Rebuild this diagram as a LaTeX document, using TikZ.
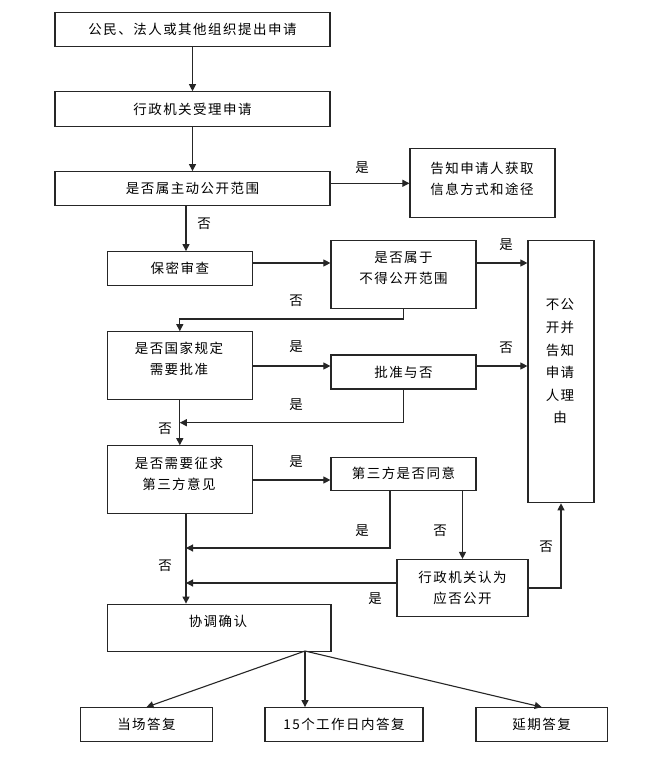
\documentclass[tikz,border=0pt]{standalone}
\usepackage{fontspec}
\newfontfamily\zh[LetterSpace=11]{Noto Sans CJK SC}
\usetikzlibrary{arrows.meta}
\begin{document}
\begin{tikzpicture}[x=1pt,y=-1pt,
 line/.style={draw=black!85,line width=1.1pt},
 arr/.style={line,-{Triangle[length=7pt,width=7pt]}},
 box/.style={draw=black!85,line width=1.2pt,inner sep=0pt,align=center,font=\zh\fontsize{13.5}{21}\selectfont},
 txt/.style={inner sep=0pt,align=center,font=\zh\fontsize{13.5}{21}\selectfont},
 lab/.style={inner sep=0pt,font=\zh\fontsize{13.5}{16}\selectfont}]
\useasboundingbox (0,0) rectangle (652,762);
\fill[white] (0,0) rectangle (652,762);
% boxes
\node[box,minimum width=275pt,minimum height=34pt] (b1) at (192.5,29.7) {公民、法人或其他组织提出申请};
\node[box,minimum width=275pt,minimum height=35pt] (b2) at (192.5,109.3) {行政机关受理申请};
\node[box,minimum width=275pt,minimum height=34pt] (b3) at (192.5,188.7) {是否属主动公开范围};
\node[box,minimum width=145pt,minimum height=69pt] (notify) at (482.5,183.3) {};
\node[txt] (notifyt) at (482,178.5) {告知申请人获取\\信息方式和途径};
\node[box,minimum width=145pt,minimum height=34pt] (secret) at (179.8,268.7) {保密审查};
\node[box,minimum width=145pt,minimum height=68pt] (notin) at (403.5,274.8) {};
\node[txt] (notint) at (403.5,268.5) {是否属于\\不得公开范围};
\node[box,minimum width=66pt,minimum height=262pt] (refuse) at (561,371.7) {};
\node[txt,font=\zh\fontsize{13.5}{22.6}\selectfont] (refuset) at (560,361.5) {不公\\开并\\告知\\申请\\人理\\由};
\node[box,minimum width=145pt,minimum height=68pt] (state) at (179.8,365.8) {};
\node[txt] (statet) at (179,359) {是否国家规定\\需要批准};
\node[box,minimum width=145pt,minimum height=34pt] (approve) at (403.5,372) {批准与否};
\node[box,minimum width=145pt,minimum height=68pt] (third) at (179.8,479.8) {};
\node[txt] (thirdt) at (179,474) {是否需要征求\\第三方意见};
\node[box,minimum width=145pt,minimum height=33pt] (agree) at (403.5,473.7) {第三方是否同意};
\node[box,minimum width=131pt,minimum height=57pt] (admin) at (462.5,588) {行政机关认为\\应否公开};
\node[box,minimum width=223.5pt,minimum height=47pt] (coord) at (219.2,627.7) {};
\node[txt] (coordt) at (218,621) {协调确认};
\node[box,minimum width=132pt,minimum height=34pt] (dang) at (146.5,724.7) {当场答复};
\node[box,minimum width=158pt,minimum height=34pt] (fifteen) at (344,724.7) {15个工作日内答复};
\node[box,minimum width=131.5pt,minimum height=34pt] (yanqi) at (541.7,724.7) {延期答复};
% helper coordinates
\coordinate (xa) at (186,0);
\coordinate (xc) at (390,0);
\coordinate (ya) at (0,263);
\coordinate (yb) at (0,319);
\coordinate (yc) at (0,366);
\coordinate (yd) at (0,422.7);
\coordinate (ye) at (0,480);
\coordinate (yf) at (0,548);
\coordinate (yg) at (0,583);
\coordinate (fan) at (305,651);
% connectors
\draw[arr] (b1.south) -- (b2.north);
\draw[arr] (b2.south) -- (b3.north);
\draw[arr] (b3.east |- notify.west) -- (notify.west);
\node[lab] (l1) at (362,168) {是};
\draw[arr] (b3.south -| xa) -- (secret.north -| xa);
\node[lab] (l2) at (204,224) {否};
\draw[arr] (secret.east |- ya) -- (notin.west |- ya);
\draw[arr] (notin.east |- ya) -- (refuse.west |- ya);
\node[lab] (l3) at (506,245) {是};
\draw[arr] (notin.south) -- (notin.south |- yb) -- (state.north |- yb) -- (state.north);
\node[lab] (l4) at (296,301) {否};
\draw[arr] (state.east |- yc) -- (approve.west |- yc);
\node[lab] (l5) at (296,347) {是};
\draw[arr] (approve.east |- yc) -- (refuse.west |- yc);
\node[lab] (l6) at (506,348) {否};
\draw[arr] (approve.south) -- (approve.south |- yd) -- (state.south |- yd);
\node[lab] (l7) at (296,405) {是};
\draw[arr] (state.south) -- (third.north);
\node[lab] (l8) at (165,429) {否};
\draw[arr] (third.east |- ye) -- (agree.west |- ye);
\node[lab] (l9) at (296,462) {是};
\draw[arr] (agree.south -| xc) -- (xc |- yf) -- (xa |- yf);
\node[lab] (l10) at (362,531) {是};
\draw[arr] (admin.north |- agree.south) -- (admin.north);
\node[lab] (l11) at (440,531) {否};
\draw[arr] (admin.east) -| (refuse.south);
\node[lab] (l12) at (546,547) {否};
\draw[arr] (admin.west |- yg) -- (xa |- yg);
\node[lab] (l13) at (375,599) {是};
\draw[arr] (third.south -| xa) -- (coord.north -| xa);
\node[lab] (l14) at (165,566) {否};
\draw[arr] (fan) -- (dang.north);
\draw[arr] (fan) -- (fan |- fifteen.north);
\draw[arr] (fan) -- (yanqi.north);
\end{tikzpicture}
\end{document}
